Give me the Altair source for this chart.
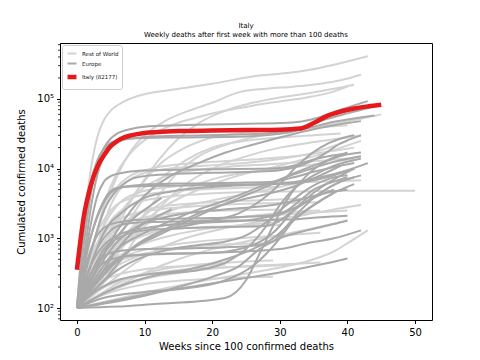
import altair as alt
import pandas as pd

# ---- data: weeks since 100 deaths -> cumulated deaths ----
italy_weeks = [0, 1, 2, 3, 4, 5, 6, 7, 8, 10, 12, 15, 20, 25, 30, 33, 35, 37, 39, 41, 43, 45]
italy_deaths = [355, 2000, 5500, 10500, 15500, 21000, 25000, 28000, 30000, 32500, 33500,
                34500, 35200, 35700, 36200, 37500, 45000, 57000, 66000, 73000, 78000, 82177]

rest_of_world = {
    "R1": ([0, 1, 2, 3, 4, 5, 7, 9, 14, 20, 26, 30, 34, 38, 43],
           [100, 1500, 9000, 28000, 50000, 68000, 92000, 110000, 135000, 165000, 210000, 230000, 258000, 310000, 410000]),
    "R2": ([0, 2, 4, 6, 8, 10, 13, 17, 20, 24, 28, 32, 36, 39, 42],
           [100, 600, 2500, 8000, 18000, 30000, 48000, 70000, 88000, 125000, 140000, 150000, 165000, 185000, 222000]),
    "R3": ([0, 3, 6, 9, 12, 15, 18, 22, 26, 30, 34, 38, 41],
           [100, 350, 1500, 5000, 13000, 27000, 45000, 68000, 88000, 105000, 120000, 140000, 160000]),
    "R4": ([0, 2, 4, 6, 8, 11, 14, 18, 22, 26, 30, 34, 37, 40],
           [100, 500, 3000, 9000, 17000, 30000, 42000, 55000, 68000, 80000, 92000, 105000, 120000, 150000]),
    "R5": ([0, 4, 8, 12, 15, 18, 22, 26, 30, 34, 38, 42, 45],
           [100, 300, 1200, 4000, 9000, 15000, 22000, 28000, 33000, 38000, 44000, 52000, 60000]),
    "R6": ([0, 3, 6, 9, 12, 16, 20, 25, 30, 35, 40],
           [100, 400, 1800, 5000, 11000, 20000, 28000, 33000, 36000, 39000, 42000]),
    "R7": ([0, 4, 8, 12, 16, 20, 25, 30, 35, 39],
           [100, 400, 2000, 6500, 13000, 20000, 25000, 28000, 30000, 32000]),
    "R8": ([0, 5, 10, 15, 20, 25, 30, 35, 40, 42],
           [100, 300, 1500, 5000, 10000, 15000, 20000, 24000, 28000, 30000]),
    "R9": ([0, 3, 7, 12, 18, 24, 30, 36, 42],
           [100, 250, 900, 2500, 5000, 8000, 11000, 16000, 25000]),
    "R10": ([0, 2, 5, 8, 12, 18, 25, 32, 40, 50],
            [100, 500, 1800, 3000, 3800, 4300, 4600, 4700, 4800, 4800]),
    "R11": ([0, 2, 4, 6, 9, 14, 20, 28, 36, 42],
            [100, 400, 1500, 3000, 4500, 5500, 6000, 6300, 6500, 6800]),
    "R12": ([0, 2, 5, 8, 12, 18, 26, 33],
            [100, 300, 1000, 2000, 2800, 3200, 3500, 3700]),
    "R13": ([0, 1, 3, 5, 8, 12, 18, 24, 30],
            [100, 300, 1200, 2500, 3800, 4500, 5000, 5300, 5500]),
    "R14": ([0, 3, 6, 10, 14, 20, 26, 32, 38],
            [100, 200, 600, 1500, 2500, 3500, 4500, 6000, 8000]),
    "R15": ([0, 2, 5, 9, 14, 20, 27, 34, 40],
            [100, 250, 700, 1200, 1600, 1900, 2100, 2300, 2500]),
    "R16": ([0, 4, 8, 12, 16, 22, 28, 34, 38, 42],
            [100, 200, 400, 700, 1000, 1400, 1800, 2200, 2600, 3000]),
    "R17": ([0, 1, 3, 6, 10, 16, 24, 30],
            [100, 200, 500, 900, 1200, 1400, 1500, 1550]),
    "R18": ([0, 2, 5, 9, 14, 20, 28],
            [100, 180, 350, 550, 700, 800, 850]),
    "R19": ([0, 3, 7, 12, 18, 24, 29],
            [100, 150, 250, 350, 420, 460, 480]),
    "R20": ([0, 2, 6, 10, 16, 22, 29],
            [100, 130, 180, 220, 250, 270, 280]),
    "R21": ([0, 8, 16, 24, 30, 35, 38, 40, 43],
            [100, 150, 220, 300, 380, 500, 650, 850, 1300]),
    "R22": ([0, 1, 3, 5, 8, 12, 18, 24, 30, 36],
            [100, 250, 800, 1500, 2200, 2600, 2900, 3100, 3200, 3300]),
    "R23": ([0, 2, 4, 7, 10, 15, 22, 30],
            [100, 350, 900, 1600, 2000, 2300, 2500, 2600]),
    "R24": ([0, 3, 6, 10, 15, 20, 26, 32, 36],
            [100, 300, 700, 1100, 1500, 1800, 2100, 2400, 2500]),
    "R25": ([0, 1, 4, 8, 12, 18, 24, 30, 36],
            [100, 180, 400, 600, 750, 900, 1000, 1100, 1200]),
    "R26": ([0, 2, 5, 10, 15, 22],
            [100, 200, 400, 600, 700, 750]),
    "R27": ([0, 4, 10, 16, 22, 30, 36],
            [100, 160, 260, 330, 380, 420, 450]),
    "R28": ([0, 2, 4, 6, 8, 11, 15, 20, 26, 32, 38, 41],
            [100, 600, 2500, 5500, 8000, 10000, 11500, 12500, 13500, 15000, 18000, 20000]),
    "R29": ([0, 3, 6, 9, 12, 16, 22, 28, 34, 40],
            [100, 500, 2000, 4500, 7000, 9000, 10500, 11500, 12500, 14000]),
    "R30": ([0, 5, 10, 15, 20, 25, 30, 35, 40],
            [100, 180, 320, 500, 700, 900, 1100, 1400, 1800]),
    "R31": ([0, 1, 3, 6, 10, 16, 22],
            [100, 140, 220, 300, 360, 400, 420]),
    "R32": ([0, 4, 8, 12, 16, 20, 26, 32, 38, 41],
            [100, 400, 1400, 3000, 5000, 7000, 9000, 10500, 12500, 14000]),
    "R33": ([0, 2, 4, 8, 14, 20, 26, 30],
            [100, 220, 380, 700, 1100, 1400, 1600, 1700]),
    "R34": ([0, 3, 5, 7, 9, 12, 16, 22, 28, 34, 40],
            [100, 800, 3000, 6000, 8000, 9500, 10500, 11500, 13000, 16000, 25000]),
    "R35": ([0, 2, 6, 12, 20, 28, 32],
            [100, 150, 240, 320, 380, 400, 420]),
}

europe = {
    "E1": ([0, 1, 2, 3, 4, 5, 6, 8, 10, 15, 25, 30, 33, 36, 39, 43],
           [100, 800, 4000, 12000, 20000, 27000, 32000, 37000, 40000, 42000, 44000, 45000, 47000, 55000, 70000, 93000]),
    "E2": ([0, 1, 2, 3, 4, 5, 6, 8, 10, 15, 25, 30, 33, 36, 40, 44],
           [100, 500, 2500, 8000, 15000, 20000, 24000, 27000, 28500, 29500, 31000, 33000, 38000, 48000, 62000, 78000]),
    "E3": ([0, 1, 2, 3, 4, 5, 7, 10, 15, 25, 30, 34, 38, 44],
           [100, 1200, 6000, 13000, 19000, 23500, 26500, 27500, 28000, 29000, 31500, 38000, 47000, 58000]),
    "E4": ([0, 1, 2, 3, 4, 5, 7, 10, 20, 29, 32, 35, 38, 40],
           [100, 400, 1500, 4000, 6500, 7800, 8800, 9400, 9800, 10000, 11000, 13500, 15500, 16500]),
    "E5": ([0, 2, 4, 6, 8, 10, 14, 20, 26, 30, 33, 36, 39, 42],
           [100, 600, 2500, 5000, 7000, 7800, 8300, 8700, 9000, 9500, 11000, 15000, 23000, 30000]),
    "E6": ([0, 1, 3, 5, 7, 10, 15, 25, 29, 32, 35, 38, 41],
           [100, 400, 2000, 4500, 5500, 5900, 6100, 6300, 6500, 7500, 9000, 10500, 12000]),
    "E7": ([0, 2, 4, 7, 10, 14, 18, 25, 32, 36, 40, 43],
           [100, 400, 1200, 2500, 3800, 4700, 5300, 5800, 6400, 7500, 9500, 12000]),
    "E8": ([0, 2, 5, 8, 11, 14, 18, 22, 26, 30, 34, 38, 42],
           [100, 250, 900, 2500, 5000, 8000, 12000, 17000, 22000, 28000, 35000, 42000, 48000]),
    "E9": ([0, 4, 8, 12, 16, 20, 24, 28, 30, 33, 36, 39, 41],
           [100, 250, 700, 1200, 1500, 1800, 2300, 4000, 6000, 12000, 20000, 27000, 30000]),
    "E10": ([0, 6, 12, 18, 22, 25, 28, 30, 32, 35, 38, 42],
            [100, 200, 300, 350, 450, 700, 1500, 3000, 5000, 8000, 11000, 14000]),
    "E11": ([0, 3, 6, 10, 14, 18, 22, 26, 30, 34, 38, 42],
            [100, 300, 700, 1200, 1800, 2600, 3500, 5000, 7000, 9500, 12500, 15000]),
    "E12": ([0, 4, 8, 12, 16, 20, 24, 28, 32, 36, 40, 42],
            [100, 300, 700, 1100, 1700, 2600, 3800, 5500, 8500, 12000, 16000, 17000]),
    "E13": ([0, 2, 4, 6, 10, 15, 20, 25, 28, 30, 33, 36, 39, 41],
            [100, 400, 800, 1100, 1400, 1600, 1700, 1800, 2000, 2200, 3000, 4500, 6500, 7500]),
    "E14": ([0, 1, 3, 5, 8, 12, 20, 28, 31, 33, 35, 38, 40],
            [100, 300, 1100, 1600, 1800, 1900, 1950, 2100, 2500, 3500, 5000, 6500, 7500]),
    "E15": ([0, 1, 3, 5, 7, 10, 20, 30, 33, 36, 40],
            [100, 200, 700, 1300, 1600, 1700, 1780, 1850, 1900, 2000, 2100]),
    "E16": ([0, 5, 10, 15, 20, 24, 27, 30, 34, 38, 40],
            [100, 120, 150, 200, 280, 400, 700, 1000, 1300, 1600, 1800]),
    "E17": ([0, 6, 12, 18, 24, 28, 32, 36, 40],
            [100, 130, 170, 210, 260, 300, 350, 420, 515]),
    "E18": ([0, 6, 12, 18, 22, 25, 27, 29, 31, 34, 37, 40],
            [100, 105, 115, 125, 140, 250, 600, 1500, 3500, 8000, 13000, 17000]),
    "E19": ([0, 3, 6, 10, 14, 18, 22, 25, 28, 31, 34, 37, 40],
            [100, 200, 350, 550, 700, 800, 900, 1100, 1700, 3000, 5000, 7000, 8000]),
    "E20": ([0, 2, 4, 7, 10, 16, 22, 28, 30, 32, 35, 38],
            [100, 300, 700, 1100, 1300, 1400, 1450, 1500, 1800, 2500, 3800, 5000]),
    "E21": ([0, 2, 4, 6, 10, 20, 26, 29, 31, 33, 36, 39, 42],
            [100, 300, 550, 650, 700, 730, 780, 900, 1500, 2500, 4500, 6500, 8000]),
    "E22": ([0, 4, 7, 10, 20, 26, 29, 32, 35, 38, 41],
            [100, 350, 550, 580, 620, 800, 1200, 2500, 4500, 7000, 10000]),
    "E23": ([0, 2, 4, 7, 12, 20, 30, 34, 38, 42],
            [100, 250, 450, 550, 600, 620, 700, 850, 1000, 1300]),
    "E24": ([0, 3, 6, 10, 16, 22, 26, 29, 32, 35, 38, 41],
            [100, 180, 250, 300, 350, 500, 700, 1000, 1800, 3000, 4500, 6000]),
    "E25": ([0, 4, 10, 16, 22, 26, 28, 30, 32, 35, 38],
            [100, 140, 170, 190, 250, 400, 600, 1000, 1800, 3000, 4500]),
    "E26": ([0, 3, 6, 9, 13, 18, 24, 29, 33, 37, 40],
            [100, 350, 900, 1500, 2000, 2400, 2700, 3000, 3600, 4500, 5000]),
    "E27": ([0, 2, 4, 6, 9, 15, 22, 30, 34, 38, 41],
            [100, 1000, 3500, 5300, 5600, 5700, 5800, 6000, 6500, 8000, 10000]),
    "E28": ([0, 2, 5, 9, 14, 19, 24, 28, 32, 36, 39],
            [100, 180, 400, 800, 1500, 2500, 3500, 4300, 5500, 8000, 11000]),
    "E29": ([0, 2, 5, 8, 11, 12.5],
            [100, 300, 800, 1800, 3000, 3800]),
    "E30": ([0, 3, 6, 9, 12, 14],
            [100, 250, 700, 1400, 2100, 2600]),
}

group_names = ["Rest of World", "Europe", "Italy (82177)"]
group_colors = ["#d3d3d3", "#a9a9a9", "#e41a1c"]
group_widths = [2, 2, 4.5]

y_major = [100, 1000, 10000, 100000]
y_minor = [m * 10 ** k for k in range(1, 6) for m in range(2, 10)
           if 67 <= m * 10 ** k <= 630000]


def to_frame(series, group):
    rows = []
    for name, (weeks, vals) in series.items():
        for w, v in zip(weeks, vals):
            rows.append({"country": name, "group": group, "week": w, "deaths": v})
    return pd.DataFrame(rows)


df_row = to_frame(rest_of_world, group_names[0])
df_eu = to_frame(europe, group_names[1])
df_it = to_frame({"Italy": (italy_weeks, italy_deaths)}, group_names[2])

FONT = "DejaVu Sans"

x_enc = alt.X("week:Q", scale=alt.Scale(domain=[-2.5, 52.5], nice=False, zero=False),
              axis=alt.Axis(values=[0, 10, 20, 30, 40, 50], title="Weeks since 100 confirmed deaths",
                            grid=False, tickSize=3.5, labelPadding=4, titlePadding=4,
                            labelFontSize=10, titleFontSize=10, labelColor="black",
                            titleColor="black", domain=False, tickColor="black",
                            labelFont=FONT, titleFont=FONT, titleFontWeight="normal"))
y_scale = alt.Scale(type="log", domain=[67.3, 634000], nice=False)
y_enc = alt.Y("deaths:Q", scale=y_scale,
              axis=alt.Axis(values=y_major, title="Cumulated confirmed deaths",
                            labelExpr="datum.value == 100 ? '10²' : datum.value == 1000 ? '10³' : datum.value == 10000 ? '10⁴' : '10⁵'",
                            grid=False, tickSize=3.5, labelPadding=3, titlePadding=10,
                            labelFontSize=10, titleFontSize=10, labelColor="black",
                            titleColor="black", domain=False, tickColor="black",
                            labelFont=FONT, titleFont=FONT, titleFontWeight="normal"))
color_enc = alt.Color("group:N", scale=alt.Scale(domain=group_names, range=group_colors),
                      legend=alt.Legend(title=None, orient="top-left", offset=2,
                                        symbolType="stroke", symbolSize=81,
                                        labelFontSize=5.5, labelFont=FONT, labelColor="#222",
                                        padding=3, rowPadding=0, strokeColor="#cccccc",
                                        fillColor="white", cornerRadius=2, labelOffset=3))
width_enc = alt.StrokeWidth("group:N", scale=alt.Scale(type="ordinal", domain=group_names, range=group_widths),
                            legend=alt.Legend(title=None))


def line_layer(df):
    return alt.Chart(df).mark_line(interpolate="monotone", strokeCap="butt").encode(
        x=x_enc, y=y_enc, color=color_enc, strokeWidth=width_enc, detail="country:N")


minor = alt.Chart(pd.DataFrame({"deaths": y_minor})).mark_rule(color="black", strokeWidth=0.8).encode(
    y=alt.Y("deaths:Q", scale=y_scale), x=alt.value(0), x2=alt.value(-2))

chart = alt.layer(line_layer(df_row), line_layer(df_eu), line_layer(df_it), minor).properties(
    width=372, height=277,
    title=alt.TitleParams(text="Italy", subtitle="Weekly deaths after first week with more than 100 deaths",
                          fontSize=7, subtitleFontSize=7, font=FONT, subtitleFont=FONT,
                          fontWeight="normal", color="black", subtitleColor="black",
                          anchor="middle", offset=5, subtitlePadding=2),
    autosize=alt.AutoSizeParams(type="none"),
    padding={"left": 52, "top": 35, "right": 40, "bottom": 38},
).configure_view(stroke="black", strokeWidth=1)

chart.save("out.html", embed_options={"renderer": "svg", "actions": False})
